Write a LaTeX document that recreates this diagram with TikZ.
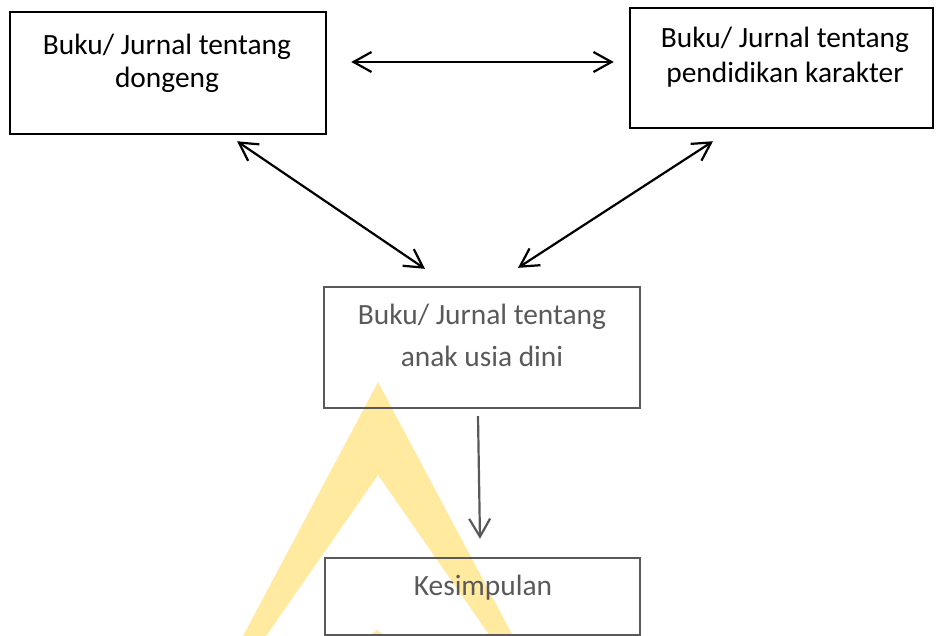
\documentclass[tikz,border=0pt]{standalone}
\usepackage{fontspec}
\setmainfont{Carlito}
\usetikzlibrary{arrows.meta}
\definecolor{wmyellow}{RGB}{255,234,160}
\definecolor{darkgray}{RGB}{89,89,89}
\tikzset{
  boxblack/.style={draw=black, line width=2.5pt, rectangle, inner sep=0pt},
  boxgray/.style={draw=darkgray, line width=2.3pt, rectangle, inner sep=0pt},
  txt/.style={font=\fontsize{29.4}{33}\selectfont, align=center, inner sep=0pt, anchor=base},
  dbl/.style={line width=2.2pt, {Straight Barb[length=18pt,width=20pt,line width=2.2pt]}-{Straight Barb[length=18pt,width=20pt,line width=2.2pt]}},
  sgl/.style={line width=2.2pt, draw=darkgray, -{Straight Barb[length=18pt,width=21pt,line width=2.2pt]}}
}
\begin{document}
\begin{tikzpicture}[x=1pt,y=-1pt]
\useasboundingbox (0,0) rectangle (938,636);
% watermark
\fill[wmyellow] (378,382) -- (513,636) -- (490,636) -- (378,475) -- (266,636) -- (243,636) -- cycle;
\fill[wmyellow] (377,630) -- (385,636) -- (369,636) -- cycle;
% boxes
\node[boxblack, minimum width=316pt, minimum height=122pt] (a) at (168,73) {};
\node[boxblack, minimum width=303pt, minimum height=120pt] (b) at (781.5,68) {};
\node[boxgray, minimum width=316pt, minimum height=121pt] (c) at (482,347.5) {};
\node[boxgray, minimum width=315pt, minimum height=77pt] (d) at (482.5,596.5) {};
% texts (base anchor = baseline of the last line)
\node[txt] (ta) at (167,88) {Buku/ Jurnal tentang\\dongeng};
\node[txt, font=\fontsize{29.4}{35}\selectfont] (tb) at (785,83) {Buku/ Jurnal tentang\\pendidikan karakter};
\node[txt, text=darkgray, font=\fontsize{29.4}{42}\selectfont] (tc) at (482,367) {Buku/ Jurnal tentang\\anak usia dini};
\node[txt, text=darkgray] (td) at (483,595) {Kesimpulan};
% connectors
\draw[dbl] ([shift={(24,-11)}]a.east) -- ([shift={(-15,-6)}]b.west);
\draw[dbl] ([shift={(69,6)}]a.south) -- ([shift={(-57,-17)}]c.north);
\draw[dbl] ([shift={(-68.5,12)}]b.south) -- ([shift={(36,-18)}]c.north);
\draw[sgl] ([shift={(-4,7)}]c.south) -- ([shift={(-2.5,-18)}]d.north);
\end{tikzpicture}
\end{document}
